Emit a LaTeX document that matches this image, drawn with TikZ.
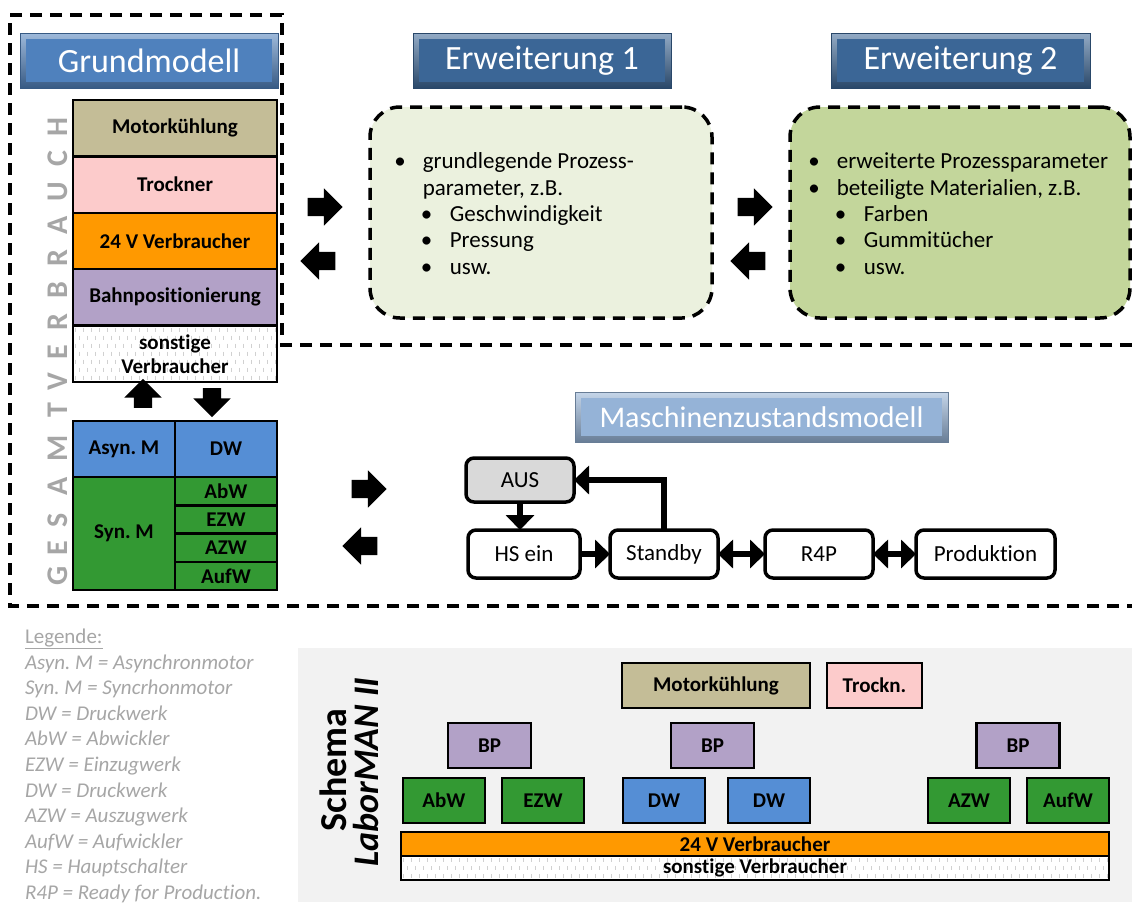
\documentclass[tikz,border=0pt]{standalone}
\usepackage{fontspec}
\setmainfont{Carlito}[Ligatures=NoCommon]
\usetikzlibrary{positioning, calc, shapes.arrows, arrows.meta}
\tikzset{>={Triangle[length=15pt, width=28pt]}}

\definecolor{grundblau}{HTML}{4F81BD}
\definecolor{erwblau}{HTML}{3B6696}
\definecolor{mzblau}{HTML}{95B3D7}
\definecolor{motor}{HTML}{C4BD97}
\definecolor{trockner}{HTML}{FCCBCB}
\definecolor{volt}{HTML}{FF9900}
\definecolor{bahn}{HTML}{B2A1C7}
\definecolor{antrieb}{HTML}{558ED5}
\definecolor{syngruen}{HTML}{339933}
\definecolor{erweins}{HTML}{EBF1DE}
\definecolor{erwzwei}{HTML}{C3D69B}
\definecolor{ausgrau}{HTML}{D9D9D9}
\definecolor{schemagrau}{HTML}{F2F2F2}
\definecolor{legendgrau}{HTML}{A6A6A6}

\newcommand{\lpunkt}{\makebox[28.5pt][l]{\textbullet}}
\newcommand{\upunkt}{\hspace*{26.5pt}\makebox[29pt][l]{\textbullet}}
\frenchspacing

\begin{document}
\begin{tikzpicture}
    [x=1pt, y=-1pt,
    every node/.style={inner sep=0pt, outer sep=0pt},
    bevel/.style={draw=#1!70!black, line width=1pt, top color=#1!55!white, bottom color=#1!70!black,
      path picture={\fill[#1] ([shift={(6pt,-6pt)}]path picture bounding box.north west)
        rectangle ([shift={(-6pt,6pt)}]path picture bounding box.south east);},
      text=white, minimum height=55, font=\fontsize{34}{40}\selectfont},
    stk/.style={draw, line width=2.5pt, minimum width=204, minimum height=56.4, align=center,
      font=\fontsize{21}{24}\selectfont\bfseries},
    sonst/.style={fill=white, path picture={
      \foreach \i in {0,...,88}
        \foreach \j in {0,...,6}
          \draw[black!18, line width=0.8pt]
            ([xshift={\i*8pt+mod(\j,2)*4pt+2pt}, yshift={-\j*8pt-2pt}]path picture bounding box.north west) -- ++(0,-4pt);}},
    barrow/.style={single arrow, fill=black, inner sep=9pt, minimum height=35, single arrow head extend=9.5pt},
    ebox/.style={draw, line width=3.5pt, dash pattern=on 12pt off 8pt, rounded corners=30pt, minimum height=211},
    liste/.style={anchor=north west, align=left, font=\fontsize{23}{26.3}\selectfont},
    st/.style={draw, line width=3.5pt, rounded corners=8pt, fill=white, minimum height=48,
      font=\fontsize{23}{26}\selectfont},
    conn/.style={line width=6pt},
    sch/.style={draw, line width=2.5pt, minimum width=82, minimum height=45,
      font=\fontsize{21}{24}\selectfont\bfseries},
    vletter/.style={rotate=90, text=legendgrau, font=\fontsize{30}{30}\selectfont\bfseries},
    rahmen/.style={line width=3.5pt, dash pattern=on 12pt off 8pt}]

    \fill[white] (0,0) rectangle (1132,906);
    \useasboundingbox (0,0) rectangle (1132,906);

    % Rahmen
    \draw[rahmen] (1132,345) -- (282,345) -- (282,15) -- (10,15) -- (10,606) -- (1132,606);

    % Titel
    \node[bevel=grundblau, minimum width=258] (grund) at (149,60.5) {Grundmodell};
    \node[bevel=erwblau, minimum width=258] (erw1t) at (542,60.5) {Erweiterung 1};
    \node[bevel=erwblau, minimum width=259] (erw2t) at (960.5,60.5) {Erweiterung 2};
    \node[bevel=mzblau, minimum width=373, minimum height=50, font=\fontsize{30}{36}\selectfont] (mzt) at (761.5,417) {Maschinenzustandsmodell};

    % Gesamtverbrauch
    \foreach \c/\y in {G/576, E/548, S/520, A/486, M/448, T/410, V/382, E/352, R/322, B/290, R/258, A/225, U/192, C/159, H/127}
      \node[vletter] (gv\y) at (58,\y) {\c};

    % Grundmodell
    \node[stk, fill=motor] (mk) at (175,128.2) {Motorkühlung};
    \node[stk, fill=trockner, below=0pt of mk] (tr) {Trockner};
    \node[stk, fill=volt, below=0pt of tr] (v24) {24 V Verbraucher};
    \node[stk, fill=bahn, below=0pt of v24] (bahnpos) {Bahnpositionierung};
    \node[stk, sonst, below=0pt of bahnpos] (sv) {sonstige\\Verbraucher};

    \node[barrow, shape border rotate=90, minimum height=29] (hoch) at (143,398) {};
    \node[barrow, shape border rotate=270, minimum height=29] (runter) at (212,398) {};

    \node[stk, fill=antrieb, minimum width=102, minimum height=56] (asyn) at (124,449) {Asyn. M};
    \node[stk, fill=antrieb, minimum width=102, minimum height=56, right=0pt of asyn] (dw) {DW};
    \node[stk, fill=syngruen, minimum width=102, minimum height=113, below=0pt of asyn] (syn) {Syn. M};
    \node[stk, fill=syngruen, minimum width=102, minimum height=28.25, below=0pt of dw] (abw) {AbW};
    \node[stk, fill=syngruen, minimum width=102, minimum height=28.25, below=0pt of abw] (ezw) {EZW};
    \node[stk, fill=syngruen, minimum width=102, minimum height=28.25, below=0pt of ezw] (azw) {AZW};
    \node[stk, fill=syngruen, minimum width=102, minimum height=28.25, below=0pt of azw] (aufw) {AufW};

    % Pfeile zwischen den Modellen
    \node[barrow] (r1) at (320.5,207) {};
    \node[barrow, shape border rotate=180] (l1) at (322.5,261) {};
    \node[barrow] (r2) at (750.5,207) {};
    \node[barrow, shape border rotate=180] (l2) at (752.5,261) {};
    \node[barrow] (r3) at (364.5,489) {};
    \node[barrow, shape border rotate=180] (l3) at (364.5,546) {};

    % Erweiterungen
    \node[ebox, fill=erweins, minimum width=342] (erw1) at (541,212.5) {};
    \node[ebox, fill=erwzwei, minimum width=340] (erw2) at (960,212.5) {};
    \node[liste] (erw1txt) at (394.3,153) {\lpunkt grundlegende Prozess-\\
      \hspace*{28.5pt}parameter, z.B.\\
      \upunkt Geschwindigkeit\\
      \upunkt Pressung\\
      \upunkt usw.};
    \node[liste] (erw2txt) at (808.3,153) {\lpunkt erweiterte Prozessparameter\\
      \lpunkt beteiligte Materialien, z.B.\\
      \upunkt Farben\\
      \upunkt Gummitücher\\
      \upunkt usw.};

    % Maschinenzustandsmodell
    \node[st, fill=ausgrau, minimum width=108, minimum height=44] (aus) at (520,480) {AUS};
    \node[st, minimum width=112] (hs) at (524,554) {HS ein};
    \node[st, minimum width=108, right=30pt of hs] (stb) {Standby};
    \node[st, minimum width=108, right=47pt of stb] (r4p) {R4P};
    \node[st, minimum width=139, right=43pt of r4p] (prod) {Produktion};

    \draw[conn, ->] (aus.south) -- (aus.south |- hs.north);
    \draw[conn, ->] (hs) -- (stb);
    \draw[conn, <->] (stb) -- (r4p);
    \draw[conn, <->] (r4p) -- (prod);
    \draw[conn, ->] (stb.north) |- (aus.east);

    % Legende
    \node[anchor=north west, align=left, text=legendgrau, font=\fontsize{21}{25.6}\selectfont] (leg) at (25,629) {\underline{Legende:}\\
      \textit{Asyn. M = Asynchronmotor}\\
      \textit{Syn. M = Syncrhonmotor}\\
      \textit{DW = Druckwerk}\\
      \textit{AbW = Abwickler}\\
      \textit{EZW = Einzugwerk}\\
      \textit{DW = Druckwerk}\\
      \textit{AZW = Auszugwerk}\\
      \textit{AufW = Aufwickler}\\
      \textit{HS = Hauptschalter}\\
      \textit{R4P = Ready for Production.}};

    % Schema
    \fill[schemagrau] (298,648) rectangle (1132,902);
    \node[rotate=90, font=\fontsize{38}{40}\selectfont\bfseries] (schema) at (333,770) {Schema};
    \node[rotate=90, font=\fontsize{36}{40}\selectfont\bfseries\itshape] (labor) at (366,772) {LaborMAN II};

    \node[sch, fill=motor, minimum width=188] (mk2) at (716,685.5) {Motorkühlung};
    \node[sch, fill=trockner, minimum width=95] (tr2) at (874.5,685.5) {Trockn.};
    \node[sch, fill=bahn, minimum width=83] (bp1) at (489.5,745.5) {BP};
    \node[sch, fill=bahn, minimum width=83] (bp2) at (712.5,745.5) {BP};
    \node[sch, fill=bahn, minimum width=83] (bp3) at (1018,745.5) {BP};
    \node[sch, fill=syngruen] (abw2) at (444,800.5) {AbW};
    \node[sch, fill=syngruen, right=17pt of abw2] (ezw2) {EZW};
    \node[sch, fill=antrieb] (dw2a) at (664,800.5) {DW};
    \node[sch, fill=antrieb, right=23pt of dw2a] (dw2b) {DW};
    \node[sch, fill=syngruen] (azw2) at (969,800.5) {AZW};
    \node[sch, fill=syngruen, right=17pt of azw2] (aufw2) {AufW};
    \node[sch, fill=volt, minimum width=708, minimum height=24] (v24b) at (755,844) {24 V Verbraucher};
    \node[sch, sonst, minimum width=708, minimum height=24, below=0pt of v24b] (svb) {sonstige Verbraucher};
\end{tikzpicture}
\end{document}
